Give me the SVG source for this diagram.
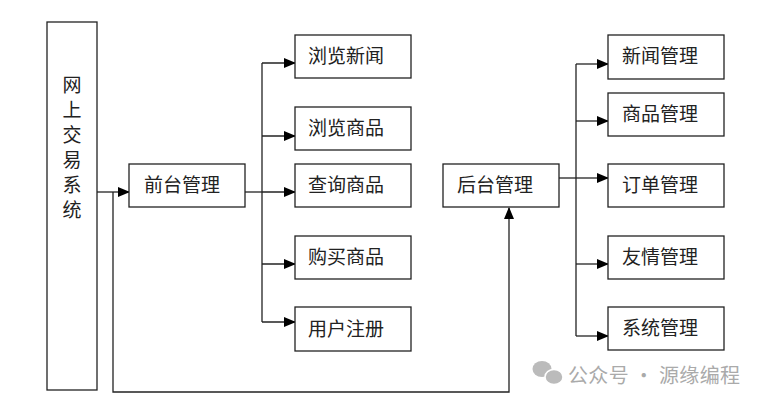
<svg xmlns="http://www.w3.org/2000/svg" width="766" height="406" viewBox="0 0 766 406">
<defs>
<marker id="arr" markerWidth="12" markerHeight="10" refX="11" refY="5" orient="auto" markerUnits="userSpaceOnUse">
<path d="M0,0 L12,5 L0,10 Z" fill="#000"/>
</marker>
<style>
.box{fill:#fff;stroke:#222;stroke-width:1.3}
.t{font-family:"Liberation Serif","Noto Sans CJK SC",serif;font-size:19px;fill:#222;dominant-baseline:central}
.c{fill:none;stroke:#222;stroke-width:1.3}
.wm{font-family:"Noto Sans CJK SC",sans-serif;font-size:20px;fill:#aaa;dominant-baseline:central}
</style>
</defs>
<rect width="766" height="406" fill="#fff"/>
<g id="connectors">
<path class="c" d="M97,192 H129" marker-end="url(#arr)"/>
<path class="c" d="M113,192 V392 H509 V208" marker-end="url(#arr)"/>
<path class="c" d="M245,192 H262"/>
<path class="c" d="M262,63 V322"/>
<path class="c" d="M262,63 H295" marker-end="url(#arr)"/>
<path class="c" d="M262,136 H295" marker-end="url(#arr)"/>
<path class="c" d="M262,192 H295" marker-end="url(#arr)"/>
<path class="c" d="M262,264 H295" marker-end="url(#arr)"/>
<path class="c" d="M262,322 H295" marker-end="url(#arr)"/>
<path class="c" d="M559,178 H576"/>
<path class="c" d="M576,64 V336"/>
<path class="c" d="M576,64 H608" marker-end="url(#arr)"/>
<path class="c" d="M576,121 H608" marker-end="url(#arr)"/>
<path class="c" d="M576,178 H608" marker-end="url(#arr)"/>
<path class="c" d="M576,264 H608" marker-end="url(#arr)"/>
<path class="c" d="M576,336 H608" marker-end="url(#arr)"/>
</g>
<g id="system">
<rect class="box" x="47" y="22" width="50" height="368"/>
<text class="t" x="72" text-anchor="middle"><tspan x="72" y="85">网</tspan><tspan x="72" y="110">上</tspan><tspan x="72" y="135">交</tspan><tspan x="72" y="160">易</tspan><tspan x="72" y="185">系</tspan><tspan x="72" y="210">统</tspan></text>
</g>
<g id="front"><rect class="box" x="129" y="164" width="116" height="43"/><text class="t" x="144" y="185">前台管理</text></g>
<g id="f1"><rect class="box" x="295" y="35" width="116" height="43"/><text class="t" x="308" y="56">浏览新闻</text></g>
<g id="f2"><rect class="box" x="295" y="107" width="116" height="43"/><text class="t" x="308" y="128">浏览商品</text></g>
<g id="f3"><rect class="box" x="295" y="164" width="116" height="43"/><text class="t" x="308" y="185">查询商品</text></g>
<g id="f4"><rect class="box" x="295" y="236" width="116" height="43"/><text class="t" x="308" y="257">购买商品</text></g>
<g id="f5"><rect class="box" x="295" y="307" width="116" height="44"/><text class="t" x="308" y="329">用户注册</text></g>
<g id="back"><rect class="box" x="443" y="164" width="116" height="43"/><text class="t" x="457" y="185">后台管理</text></g>
<g id="b1"><rect class="box" x="608" y="35" width="116" height="44"/><text class="t" x="622" y="56">新闻管理</text></g>
<g id="b2"><rect class="box" x="608" y="93" width="116" height="43"/><text class="t" x="622" y="114">商品管理</text></g>
<g id="b3"><rect class="box" x="608" y="164" width="116" height="43"/><text class="t" x="622" y="185">订单管理</text></g>
<g id="b4"><rect class="box" x="608" y="236" width="116" height="43"/><text class="t" x="622" y="257">友情管理</text></g>
<g id="b5"><rect class="box" x="608" y="307" width="116" height="43"/><text class="t" x="622" y="328">系统管理</text></g>
<g id="watermark">
<ellipse cx="542" cy="369" rx="9.5" ry="8" fill="#bbb"/>
<ellipse cx="554" cy="377" rx="9" ry="7.5" fill="#bbb" stroke="#fff" stroke-width="1.5"/>
<text class="wm" x="568" y="374" textLength="172" lengthAdjust="spacing">公众号 · 源缘编程</text>
</g>
</svg>
